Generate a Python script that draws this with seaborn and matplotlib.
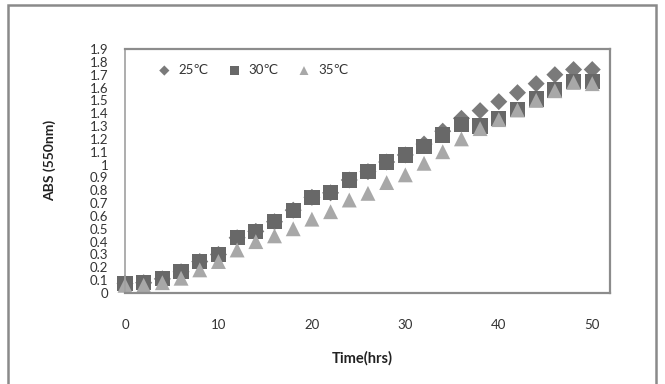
import numpy as np
import pandas as pd
import matplotlib
matplotlib.use("Agg")
import matplotlib.pyplot as plt
import seaborn as sns
from matplotlib.patches import Rectangle

# ---- data ----
time_hrs = [0, 2, 4, 6, 8, 10, 12, 14, 16, 18, 20, 22, 24, 26, 28, 30, 32, 34, 36, 38, 40, 42, 44, 46, 48, 50]
abs_25 = [0.075, 0.08, 0.11, 0.165, 0.245, 0.30, 0.43, 0.48, 0.555, 0.645, 0.745, 0.78, 0.88, 0.945, 1.02, 1.075,
          1.16, 1.26, 1.36, 1.42, 1.49, 1.56, 1.63, 1.70, 1.74, 1.74]
abs_30 = [0.075, 0.08, 0.11, 0.165, 0.245, 0.30, 0.43, 0.48, 0.555, 0.645, 0.745, 0.78, 0.88, 0.945, 1.02, 1.075,
          1.14, 1.23, 1.31, 1.30, 1.36, 1.43, 1.51, 1.58, 1.645, 1.645]
abs_35 = [0.06, 0.06, 0.08, 0.115, 0.18, 0.245, 0.335, 0.40, 0.445, 0.50, 0.575, 0.633, 0.724, 0.776, 0.86, 0.92,
          1.01, 1.10, 1.20, 1.28, 1.35, 1.425, 1.50, 1.575, 1.64, 1.63]
series_labels = ["25℃", "30℃", "35℃"]
y_ticks = [round(0.1 * i, 1) for i in range(20)]
x_ticks = [0, 10, 20, 30, 40, 50]

colors = ["#7a7a7a", "#686868", "#a8a8a8"]
markers = ["D", "s", "^"]
sizes = [75, 120, 115]

sns.set_theme(style="white")
plt.rcParams["font.family"] = ["Lato", "DejaVu Sans"]

fig = plt.figure(figsize=(6.65, 3.84), dpi=100)
ax = fig.add_axes([125 / 665, 1 - 293 / 384, 485 / 665, 244 / 384])

for vals, lab, c, m, s in zip([abs_25, abs_30, abs_35], series_labels, colors, markers, sizes):
    df = pd.DataFrame({"t": time_hrs, "v": vals})
    sns.scatterplot(data=df, x="t", y="v", ax=ax, color=c, marker=m, s=s,
                    edgecolor="none", linewidth=0, label=lab, clip_on=False)

ax.set_xlim(0, 51.9)
ax.set_ylim(0, 1.9)
ax.set_xticks(x_ticks)
ax.set_xticklabels([str(v) for v in x_ticks])
ax.set_yticks(y_ticks)
ax.set_yticklabels([f"{v:g}" for v in y_ticks])
ax.tick_params(axis="both", length=0, labelsize=9.5, colors="#333333")
ax.tick_params(axis="y", pad=12)
ax.tick_params(axis="x", pad=19)

for side in ["top", "right", "bottom", "left"]:
    ax.spines[side].set_visible(True)
    ax.spines[side].set_color("#8c8c8c")
    ax.spines[side].set_linewidth(1.6)
ax.spines["left"].set_color("#a0a0a0")
ax.spines["left"].set_linewidth(1.2)

ax.set_xlabel("Time(hrs)", fontsize=10.5, fontweight="bold", color="#222222")
ax.xaxis.set_label_coords((362 - 125) / 485, (293 - 358) / 244)
ax.xaxis.label.set_va("center")
ax.set_ylabel("ABS (550nm)", fontsize=10, fontweight="bold", color="#222222")
ax.yaxis.set_label_coords((50 - 125) / 485, (293 - 160) / 244)
ax.yaxis.label.set_va("center")

leg = ax.legend(loc="center", bbox_to_anchor=(250 / 665, 1 - 70 / 384), bbox_transform=fig.transFigure,
                ncol=3, frameon=False, fontsize=9.5, markerscale=0.6, handletextpad=0.1,
                columnspacing=0.9, borderpad=0, labelcolor="#333333")

# outer chart border
fig.patches.append(Rectangle((8 / 665, -0.05), (656 - 8) / 665, (1 - 5 / 384) + 0.05,
                             transform=fig.transFigure, fill=False, edgecolor="#8a8a8a",
                             linewidth=1.8, zorder=0))

fig.savefig("out.png", dpi=100)
